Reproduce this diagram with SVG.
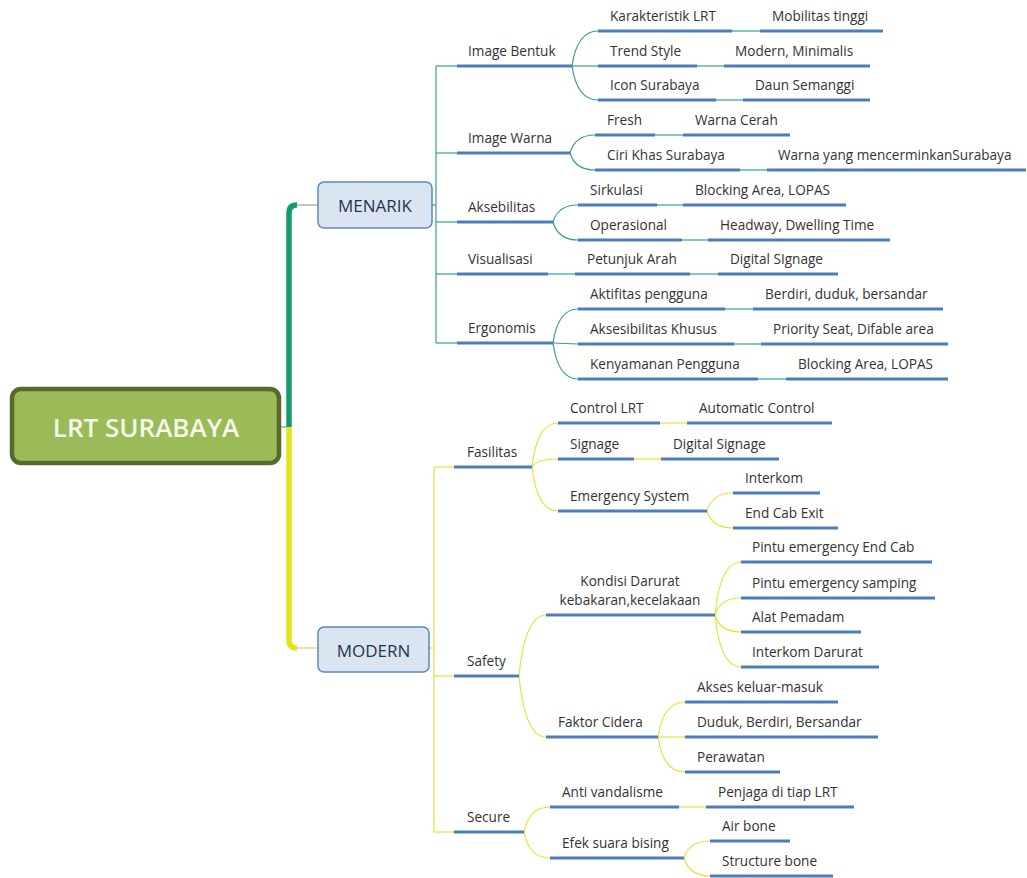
<svg xmlns="http://www.w3.org/2000/svg" width="1027" height="878" viewBox="0 0 1027 878">
  <style>
    .lbl { font-family: "Open Sans", "Liberation Sans", sans-serif; font-size: 13.6px; fill: #333333; }
    .ul { stroke: #4a7ebb; stroke-width: 3; fill: none; }
    .ct { stroke: #3a9e8c; stroke-width: 1.2; fill: none; }
    .cy { stroke: #e3e33a; stroke-width: 1.2; fill: none; }
    .box { fill: #dbe5f1; stroke: #5b87c5; stroke-width: 1.5; }
    .boxtxt { font-family: "Open Sans", "Liberation Sans", sans-serif; font-size: 17px; fill: #1f3550; text-anchor: middle; }
  </style>
  <rect width="1027" height="878" fill="#ffffff"/>

  <!-- connectors -->
  <g id="connectors">
    <!-- trunk -->
    <line x1="281" y1="427" x2="289" y2="427" stroke="#8a9a70" stroke-width="1.2"/>
    <path d="M289,427 V213 Q289,205 297,205" stroke="#169a72" stroke-width="5.5" fill="none"/>
    <line x1="297" y1="205" x2="318" y2="205" stroke="#9aa6a0" stroke-width="1.2"/>
    <path d="M289,427 V640 Q289,648 297,648" stroke="#e4e41c" stroke-width="5.5" fill="none"/>
    <line x1="297" y1="648" x2="318" y2="648" stroke="#d8d86a" stroke-width="1.2"/>

    <!-- MENARIK branch -->
    <line class="ct" x1="432" y1="205" x2="436" y2="205"/>
    <line class="ct" x1="436" y1="66" x2="436" y2="343"/>
    <line class="ct" x1="436" y1="66" x2="457" y2="66"/>
    <line class="ct" x1="436" y1="153" x2="457" y2="153"/>
    <line class="ct" x1="436" y1="222" x2="457" y2="222"/>
    <line class="ct" x1="436" y1="274" x2="457" y2="274"/>
    <line class="ct" x1="436" y1="343" x2="457" y2="343"/>

    <path class="ct" d="M572,66 Q577,31 598,31"/>
    <line class="ct" x1="572" y1="66" x2="598" y2="66"/>
    <path class="ct" d="M572,66 Q577,100 598,100"/>
    <path class="ct" d="M570,153 Q575,135 595,135"/>
    <path class="ct" d="M570,153 Q575,170 595,170"/>
    <path class="ct" d="M553,222 Q558,205 578,205"/>
    <path class="ct" d="M553,222 Q558,240 578,240"/>
    <line class="ct" x1="548" y1="274" x2="575" y2="274"/>
    <path class="ct" d="M553,343 Q558,309 578,309"/>
    <line class="ct" x1="553" y1="343" x2="578" y2="344"/>
    <path class="ct" d="M553,343 Q558,379 578,379"/>

    <line class="ct" x1="732" y1="31" x2="760" y2="31"/>
    <line class="ct" x1="697" y1="66" x2="724" y2="66"/>
    <line class="ct" x1="716" y1="100" x2="743" y2="100"/>
    <line class="ct" x1="655" y1="135" x2="683" y2="135"/>
    <line class="ct" x1="740" y1="170" x2="767" y2="170"/>
    <line class="ct" x1="657" y1="205" x2="683" y2="205"/>
    <line class="ct" x1="682" y1="240" x2="708" y2="240"/>
    <line class="ct" x1="690" y1="274" x2="718" y2="274"/>
    <line class="ct" x1="725" y1="309" x2="753" y2="309"/>
    <line class="ct" x1="734" y1="344" x2="761" y2="344"/>
    <line class="ct" x1="758" y1="379" x2="786" y2="379"/>

    <!-- MODERN branch -->
    <line class="cy" x1="429" y1="648" x2="434" y2="648"/>
    <line class="cy" x1="434" y1="467" x2="434" y2="832"/>
    <line class="cy" x1="434" y1="467" x2="454" y2="467"/>
    <line class="cy" x1="434" y1="676" x2="454" y2="676"/>
    <line class="cy" x1="434" y1="832" x2="454" y2="832"/>

    <path class="cy" d="M532,467 Q537,423 558,423"/>
    <path class="cy" d="M532,467 Q537,459 558,459"/>
    <path class="cy" d="M532,467 Q537,511 558,511"/>
    <path class="cy" d="M707,511 Q712,493 733,493"/>
    <path class="cy" d="M707,511 Q712,528 733,528"/>
    <path class="cy" d="M519,676 Q525,615 546,615"/>
    <path class="cy" d="M519,676 Q525,737 546,737"/>
    <path class="cy" d="M715,615 Q720,562 741,562"/>
    <path class="cy" d="M715,615 Q720,598 741,598"/>
    <path class="cy" d="M715,615 Q720,632 741,632"/>
    <path class="cy" d="M715,615 Q720,667 741,667"/>
    <path class="cy" d="M658,737 Q663,702 685,702"/>
    <line class="cy" x1="658" y1="737" x2="685" y2="737"/>
    <path class="cy" d="M658,737 Q663,772 685,772"/>
    <path class="cy" d="M524,832 Q529,807 550,807"/>
    <path class="cy" d="M524,832 Q529,858 550,858"/>
    <path class="cy" d="M684,858 Q689,841 710,841"/>
    <path class="cy" d="M684,858 Q689,876 710,876"/>

    <line class="cy" x1="660" y1="423" x2="687" y2="423"/>
    <line class="cy" x1="634" y1="459" x2="661" y2="459"/>
    <line class="cy" x1="679" y1="807" x2="706" y2="807"/>
  </g>

  <!-- root -->
  <g id="root">
    <rect x="12" y="389" width="267" height="74" rx="9" fill="#9bbb59" stroke="#566a2c" stroke-width="4.5"/>
    <text x="146" y="437" font-family="'Open Sans', 'Liberation Sans', sans-serif" font-size="26" font-weight="600" fill="#f4f8ea" text-anchor="middle">LRT SURABAYA</text>
  </g>

  <!-- main topics -->
  <g id="menarik">
    <rect class="box" x="318" y="182" width="114" height="46" rx="6"/>
    <text class="boxtxt" x="375" y="212">MENARIK</text>
  </g>
  <g id="modern">
    <rect class="box" x="318" y="627" width="111" height="45" rx="6"/>
    <text class="boxtxt" x="373.5" y="657">MODERN</text>
  </g>

  <!-- MENARIK subtopics -->
  <g id="image-bentuk"><text class="lbl" x="468" y="56">Image Bentuk</text><line class="ul" x1="457" y1="66" x2="572" y2="66"/></g>
  <g id="karakteristik-lrt"><text class="lbl" x="610" y="21">Karakteristik LRT</text><line class="ul" x1="598" y1="31" x2="732" y2="31"/></g>
  <g id="mobilitas-tinggi"><text class="lbl" x="772" y="21">Mobilitas tinggi</text><line class="ul" x1="760" y1="31" x2="883" y2="31"/></g>
  <g id="trend-style"><text class="lbl" x="610" y="56">Trend Style</text><line class="ul" x1="598" y1="66" x2="697" y2="66"/></g>
  <g id="modern-minimalis"><text class="lbl" x="735" y="56">Modern, Minimalis</text><line class="ul" x1="724" y1="66" x2="870" y2="66"/></g>
  <g id="icon-surabaya"><text class="lbl" x="610" y="90">Icon Surabaya</text><line class="ul" x1="598" y1="100" x2="716" y2="100"/></g>
  <g id="daun-semanggi"><text class="lbl" x="755" y="90">Daun Semanggi</text><line class="ul" x1="743" y1="100" x2="870" y2="100"/></g>

  <g id="image-warna"><text class="lbl" x="468" y="143">Image Warna</text><line class="ul" x1="457" y1="153" x2="570" y2="153"/></g>
  <g id="fresh"><text class="lbl" x="607" y="125">Fresh</text><line class="ul" x1="595" y1="135" x2="655" y2="135"/></g>
  <g id="warna-cerah"><text class="lbl" x="695" y="125">Warna Cerah</text><line class="ul" x1="683" y1="135" x2="790" y2="135"/></g>
  <g id="ciri-khas"><text class="lbl" x="607" y="160">Ciri Khas Surabaya</text><line class="ul" x1="595" y1="170" x2="740" y2="170"/></g>
  <g id="warna-yang"><text class="lbl" x="778" y="160">Warna yang mencerminkanSurabaya</text><line class="ul" x1="767" y1="170" x2="1026" y2="170"/></g>

  <g id="aksebilitas"><text class="lbl" x="468" y="212">Aksebilitas</text><line class="ul" x1="457" y1="222" x2="553" y2="222"/></g>
  <g id="sirkulasi"><text class="lbl" x="590" y="195">Sirkulasi</text><line class="ul" x1="578" y1="205" x2="657" y2="205"/></g>
  <g id="blocking-area-1"><text class="lbl" x="695" y="195">Blocking Area, LOPAS</text><line class="ul" x1="683" y1="205" x2="846" y2="205"/></g>
  <g id="operasional"><text class="lbl" x="590" y="230">Operasional</text><line class="ul" x1="578" y1="240" x2="682" y2="240"/></g>
  <g id="headway"><text class="lbl" x="720" y="230">Headway, Dwelling Time</text><line class="ul" x1="708" y1="240" x2="890" y2="240"/></g>

  <g id="visualisasi"><text class="lbl" x="468" y="264">Visualisasi</text><line class="ul" x1="457" y1="274" x2="548" y2="274"/></g>
  <g id="petunjuk-arah"><text class="lbl" x="587" y="264">Petunjuk Arah</text><line class="ul" x1="575" y1="274" x2="690" y2="274"/></g>
  <g id="digital-signage-1"><text class="lbl" x="730" y="264">Digital SIgnage</text><line class="ul" x1="718" y1="274" x2="838" y2="274"/></g>

  <g id="ergonomis"><text class="lbl" x="468" y="333">Ergonomis</text><line class="ul" x1="457" y1="343" x2="553" y2="343"/></g>
  <g id="aktifitas"><text class="lbl" x="590" y="299">Aktifitas pengguna</text><line class="ul" x1="578" y1="309" x2="725" y2="309"/></g>
  <g id="berdiri"><text class="lbl" x="765" y="299">Berdiri, duduk, bersandar</text><line class="ul" x1="753" y1="309" x2="943" y2="309"/></g>
  <g id="aksesibilitas-khusus"><text class="lbl" x="590" y="334">Aksesibilitas Khusus</text><line class="ul" x1="578" y1="344" x2="734" y2="344"/></g>
  <g id="priority-seat"><text class="lbl" x="773" y="334">Priority Seat, Difable area</text><line class="ul" x1="761" y1="344" x2="948" y2="344"/></g>
  <g id="kenyamanan"><text class="lbl" x="590" y="369">Kenyamanan Pengguna</text><line class="ul" x1="578" y1="379" x2="758" y2="379"/></g>
  <g id="blocking-area-2"><text class="lbl" x="798" y="369">Blocking Area, LOPAS</text><line class="ul" x1="786" y1="379" x2="948" y2="379"/></g>

  <!-- MODERN subtopics -->
  <g id="fasilitas"><text class="lbl" x="467" y="457">Fasilitas</text><line class="ul" x1="454" y1="467" x2="532" y2="467"/></g>
  <g id="control-lrt"><text class="lbl" x="570" y="413">Control LRT</text><line class="ul" x1="558" y1="423" x2="660" y2="423"/></g>
  <g id="automatic-control"><text class="lbl" x="699" y="413">Automatic Control</text><line class="ul" x1="687" y1="423" x2="832" y2="423"/></g>
  <g id="signage"><text class="lbl" x="570" y="449">Signage</text><line class="ul" x1="558" y1="459" x2="634" y2="459"/></g>
  <g id="digital-signage-2"><text class="lbl" x="673" y="449">Digital Signage</text><line class="ul" x1="661" y1="459" x2="779" y2="459"/></g>
  <g id="emergency-system"><text class="lbl" x="570" y="501">Emergency System</text><line class="ul" x1="558" y1="511" x2="707" y2="511"/></g>
  <g id="interkom"><text class="lbl" x="745" y="483">Interkom</text><line class="ul" x1="733" y1="493" x2="820" y2="493"/></g>
  <g id="end-cab-exit"><text class="lbl" x="745" y="518">End Cab Exit</text><line class="ul" x1="733" y1="528" x2="838" y2="528"/></g>

  <g id="safety"><text class="lbl" x="467" y="666">Safety</text><line class="ul" x1="454" y1="676" x2="519" y2="676"/></g>
  <g id="kondisi-darurat">
    <text class="lbl" x="630" y="586" text-anchor="middle">Kondisi Darurat</text>
    <text class="lbl" x="630" y="605" text-anchor="middle">kebakaran,kecelakaan</text>
    <line class="ul" x1="546" y1="615" x2="715" y2="615"/>
  </g>
  <g id="pintu-end-cab"><text class="lbl" x="752" y="552">Pintu emergency End Cab</text><line class="ul" x1="741" y1="562" x2="932" y2="562"/></g>
  <g id="pintu-samping"><text class="lbl" x="752" y="588">Pintu emergency samping</text><line class="ul" x1="741" y1="598" x2="935" y2="598"/></g>
  <g id="alat-pemadam"><text class="lbl" x="752" y="622">Alat Pemadam</text><line class="ul" x1="741" y1="632" x2="861" y2="632"/></g>
  <g id="interkom-darurat"><text class="lbl" x="752" y="657">Interkom Darurat</text><line class="ul" x1="741" y1="667" x2="879" y2="667"/></g>
  <g id="faktor-cidera"><text class="lbl" x="558" y="727">Faktor Cidera</text><line class="ul" x1="546" y1="737" x2="658" y2="737"/></g>
  <g id="akses"><text class="lbl" x="697" y="692">Akses keluar-masuk</text><line class="ul" x1="685" y1="702" x2="838" y2="702"/></g>
  <g id="duduk"><text class="lbl" x="697" y="727">Duduk, Berdiri, Bersandar</text><line class="ul" x1="685" y1="737" x2="878" y2="737"/></g>
  <g id="perawatan"><text class="lbl" x="697" y="762">Perawatan</text><line class="ul" x1="685" y1="772" x2="780" y2="772"/></g>

  <g id="secure"><text class="lbl" x="467" y="822">Secure</text><line class="ul" x1="454" y1="832" x2="524" y2="832"/></g>
  <g id="anti-vandalisme"><text class="lbl" x="562" y="797">Anti vandalisme</text><line class="ul" x1="550" y1="807" x2="679" y2="807"/></g>
  <g id="penjaga"><text class="lbl" x="718" y="797">Penjaga di tiap LRT</text><line class="ul" x1="706" y1="807" x2="854" y2="807"/></g>
  <g id="efek-suara"><text class="lbl" x="562" y="848">Efek suara bising</text><line class="ul" x1="550" y1="858" x2="684" y2="858"/></g>
  <g id="air-bone"><text class="lbl" x="722" y="831">Air bone</text><line class="ul" x1="710" y1="841" x2="790" y2="841"/></g>
  <g id="structure-bone"><text class="lbl" x="722" y="866">Structure bone</text><line class="ul" x1="710" y1="876" x2="833" y2="876"/></g>
</svg>
